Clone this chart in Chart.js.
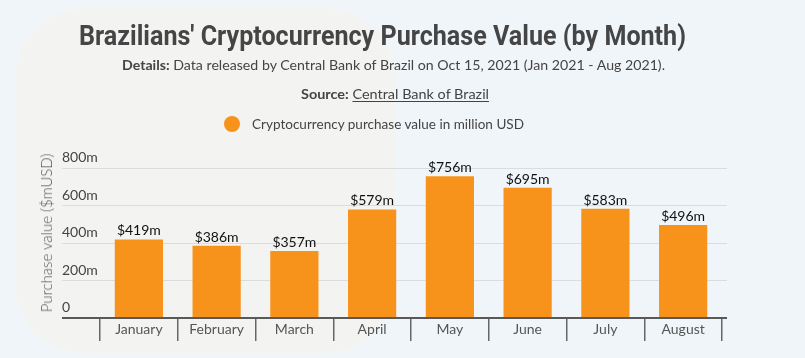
<!DOCTYPE html>
<html><head><meta charset="utf-8">
<script src="https://cdn.jsdelivr.net/npm/chart.js@4.4.0/dist/chart.umd.min.js"></script>
<style>
html,body{margin:0;padding:0;}
body{width:805px;height:358px;background:#f0f5f9;position:relative;overflow:hidden;font-family:Lato,sans-serif;}
#wm{position:absolute;left:15px;top:8px;width:380px;height:345px;border-radius:70px;background:#f3f4f2;}
.line{position:absolute;left:0;white-space:nowrap;transform-origin:0 0;}
#title{font-family:Roboto,sans-serif;font-weight:700;font-size:27px;line-height:27px;color:#454545;top:23px;}
#details{font-size:14px;line-height:14px;color:#444;top:58px;}
#source{font-size:14px;line-height:14px;color:#444;top:87px;}
#source u{text-decoration:underline;text-underline-offset:2px;}
#legtext{font-size:14px;line-height:14px;color:#444;top:117px;}
#legdot{position:absolute;left:224px;top:116px;width:16px;height:16px;border-radius:50%;background:#f7931a;}
#ytitle{position:absolute;left:46px;top:233px;transform:translate(-50%,-50%) rotate(-90deg);font-weight:300;font-size:15px;color:#555;white-space:nowrap;}
canvas{position:absolute;left:0;top:0;}
</style></head>
<body>
<div id="wm"></div>
<canvas id="c" width="805" height="358"></canvas>
<div id="title" class="line">Brazilians' Cryptocurrency Purchase Value (by Month)</div>
<div id="details" class="line"><b>Details:</b> Data released by Central Bank of Brazil on Oct 15, 2021 (Jan 2021 - Aug 2021).</div>
<div id="source" class="line"><b>Source:</b> <u>Central Bank of Brazil</u></div>
<div id="legdot"></div>
<div id="legtext" class="line">Cryptocurrency purchase value in million USD</div>
<div id="ytitle">Purchase value ($mUSD)</div>
<script>
const months = ['January','February','March','April','May','June','July','August'];
const purchaseValues = [419,386,357,579,756,695,583,496];
const seriesLabel = 'Cryptocurrency purchase value in million USD';
const yMin = 0, yMax = 800, yStep = 200;

function fitText(id, left, right){
  const el = document.getElementById(id);
  const w = el.getBoundingClientRect().width;
  el.style.left = left + 'px';
  el.style.transform = 'scaleX(' + ((right-left)/w) + ')';
}
fitText('title', 79, 686);
fitText('details', 122, 665);
fitText('source', 301, 489);
fitText('legtext', 252, 524);

const gridColor = c => (c.tick && c.tick.value === 0) ? '#595959' : '#dadde0';
const gridWidth = c => (c.tick && c.tick.value === 0) ? 2 : 1;

const dataLabels = {
  id:'dataLabels',
  afterDatasetsDraw(chart){
    const ctx = chart.ctx;
    const meta = chart.getDatasetMeta(0);
    ctx.save();
    ctx.font = '14px Lato';
    ctx.fillStyle = '#111';
    ctx.textAlign = 'center';
    ctx.textBaseline = 'alphabetic';
    meta.data.forEach((bar,i)=>{
      ctx.fillText('$' + purchaseValues[i] + 'm', bar.x, bar.y - 4);
    });
    ctx.restore();
  }
};

new Chart(document.getElementById('c'), {
  type:'bar',
  data:{
    labels:months,
    datasets:[{label:seriesLabel,data:purchaseValues,backgroundColor:'#f7931a',categoryPercentage:1,barPercentage:0.62}]
  },
  options:{
    responsive:false,
    animation:false,
    layout:{padding:{left:62,right:78,top:168,bottom:0}},
    plugins:{legend:{display:false},tooltip:{enabled:false}},
    scales:{
      x:{
        grid:{offset:true,drawOnChartArea:false,drawTicks:true,tickLength:23,color:'#666',lineWidth:1.5},
        border:{display:false},
        ticks:{padding:-20,color:'#555',font:{family:'Lato',size:14}},
        afterFit(s){s.height=40;}
      },
      y:{
        min:yMin,max:yMax,
        ticks:{stepSize:yStep,align:'end',crossAlign:'far',padding:0,color:'#444',font:{family:'Lato',size:14,lineHeight:0.45},
          callback:v => [v === 0 ? '0' : v + 'm', '']},
        grid:{color:gridColor,lineWidth:gridWidth,tickLength:38},
        border:{display:false},
        afterFit(s){s.width=38;}
      },
      y2:{
        position:'right',min:yMin,max:yMax,
        ticks:{display:false,stepSize:yStep},
        grid:{drawOnChartArea:false,tickLength:5,color:gridColor,lineWidth:gridWidth},
        border:{display:false},
        afterFit(s){s.width=5;}
      }
    }
  },
  plugins:[dataLabels]
});
</script>
</body></html>
